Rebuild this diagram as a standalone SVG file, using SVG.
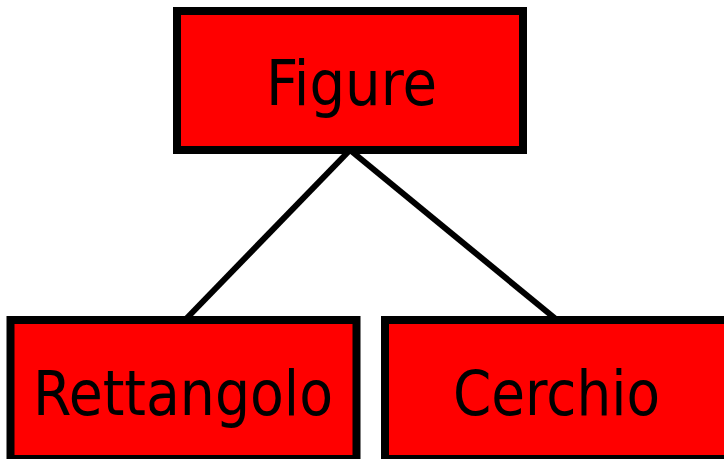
<svg xmlns="http://www.w3.org/2000/svg" width="724" height="459" viewBox="0 0 724 459">
<style>
.box{fill:#ff0000;stroke:#000;stroke-width:8}
.lbl{font-family:"DejaVu Sans Condensed","DejaVu Sans",sans-serif;font-size:63px;fill:#000;text-anchor:middle}
.edge{stroke:#000;stroke-width:6;fill:none}
</style>
<rect width="724" height="459" fill="#fff"/>
<g id="connectors">
<line class="edge" x1="350" y1="150" x2="185" y2="320"/>
<line class="edge" x1="350" y1="150" x2="557" y2="320"/>
</g>
<g id="figure">
<rect class="box" x="177" y="11" width="346" height="139"/>
<text class="lbl" x="351.5" y="105" textLength="171" lengthAdjust="spacingAndGlyphs">Figure</text>
</g>
<g id="rettangolo">
<rect class="box" x="10.5" y="320" width="346" height="139"/>
<text class="lbl" x="183" y="415" textLength="300" lengthAdjust="spacingAndGlyphs">Rettangolo</text>
</g>
<g id="cerchio">
<rect class="box" x="385" y="320" width="346" height="139"/>
<text class="lbl" x="556.5" y="415" textLength="207" lengthAdjust="spacingAndGlyphs">Cerchio</text>
</g>
</svg>
